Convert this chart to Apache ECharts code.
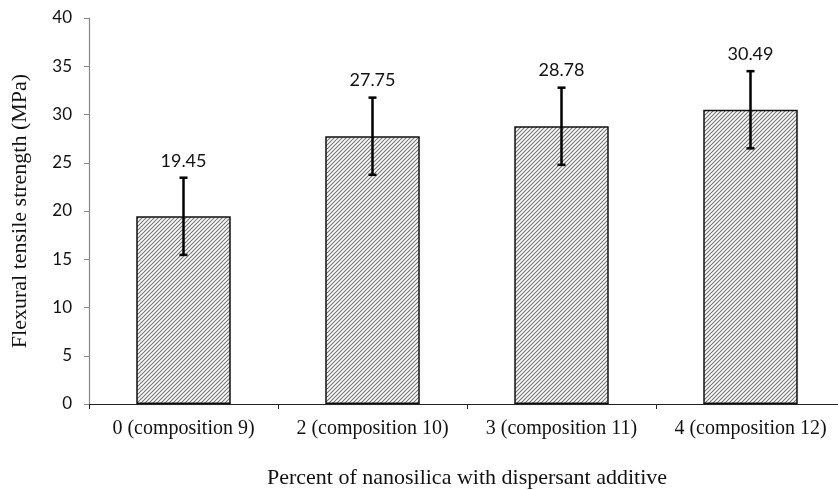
<!DOCTYPE html>
<html>
<head>
<meta charset="utf-8">
<script src="https://cdn.jsdelivr.net/npm/echarts@6/dist/echarts.min.js"></script>
<style>
  html, body { margin: 0; padding: 0; background: #fff; }
  #chart { width: 838px; height: 490px; }
</style>
</head>
<body>
<div id="chart"></div>
<script>
// Flexural tensile strength by nanosilica content
const categories = ['0 (composition 9)', '2 (composition 10)', '3 (composition 11)', '4 (composition 12)'];
const strength = [19.45, 27.75, 28.78, 30.49];
const errors = [4, 4, 4, 4];
const yTicks = { min: 0, max: 40, interval: 5 };

// Diagonal hatch fill for the bars
function hatchPattern() {
  const c = document.createElement('canvas');
  c.width = 4; c.height = 4;
  const g = c.getContext('2d');
  g.fillStyle = '#ffffff';
  g.fillRect(0, 0, 4, 4);
  g.strokeStyle = '#707070';
  g.lineWidth = 1.05;
  g.beginPath();
  g.moveTo(-1, 5); g.lineTo(5, -1);
  g.moveTo(-1, 1); g.lineTo(1, -1);
  g.moveTo(3, 5); g.lineTo(5, 3);
  g.stroke();
  return c;
}

const chart = echarts.init(document.getElementById('chart'), null, { renderer: 'canvas' });

const errData = strength.map((v, i) => [i, v, errors[i]]);

chart.setOption({
  animation: false,
  grid: { left: 89, right: -7, top: 18, bottom: 86, containLabel: false, outerBoundsMode: 'none' },
  xAxis: {
    type: 'category',
    data: categories,
    axisLine: { lineStyle: { color: '#222', width: 1.2 } },
    axisTick: { show: true, interval: 0, alignWithLabel: false, length: 5, lineStyle: { color: '#222' } },
    axisLabel: { interval: 0, hideOverlap: false, color: '#111', fontFamily: 'Liberation Serif', fontSize: 20, margin: 15 },
    name: 'Percent of nanosilica with dispersant additive',
    nameLocation: 'middle',
    nameGap: 63,
    nameTextStyle: { color: '#111', fontFamily: 'Liberation Serif', fontSize: 22 }
  },
  yAxis: {
    type: 'value',
    min: yTicks.min, max: yTicks.max, interval: yTicks.interval,
    splitLine: { show: false },
    axisLine: { show: true, lineStyle: { color: '#888', width: 1.2 } },
    axisTick: { show: true, length: 5, lineStyle: { color: '#888' } },
    axisLabel: { color: '#111', fontFamily: 'Lato', fontSize: 17, margin: 17 },
    name: 'Flexural tensile strength (MPa)',
    nameLocation: 'middle',
    nameGap: 58,
    nameTextStyle: { color: '#111', fontFamily: 'Liberation Serif', fontSize: 22 }
  },
  series: [
    {
      type: 'bar',
      data: strength,
      barWidth: '50%',
      itemStyle: {
        color: { image: hatchPattern(), repeat: 'repeat' },
        borderColor: '#111',
        borderWidth: 1.5
      }
    },
    {
      type: 'custom',
      data: errData,
      z: 10,
      renderItem: function (params, api) {
        const i = api.value(0), v = api.value(1), e = api.value(2);
        const top = api.coord([i, v + e]);
        const bot = api.coord([i, v - e]);
        const x = top[0];
        const cap = 4;
        const style = { stroke: '#000', lineWidth: 2.5 };
        return {
          type: 'group',
          children: [
            { type: 'line', shape: { x1: x, y1: top[1], x2: x, y2: bot[1] }, style: style },
            { type: 'line', shape: { x1: x - cap, y1: top[1], x2: x + cap, y2: top[1] }, style: style },
            { type: 'line', shape: { x1: x - cap, y1: bot[1], x2: x + cap, y2: bot[1] }, style: style },
            {
              type: 'text',
              style: {
                text: v.toFixed(2),
                x: x, y: top[1] - 8,
                align: 'center', verticalAlign: 'bottom',
                fill: '#111', font: '18px Lato'
              }
            }
          ]
        };
      }
    }
  ]
});
</script>
</body>
</html>
